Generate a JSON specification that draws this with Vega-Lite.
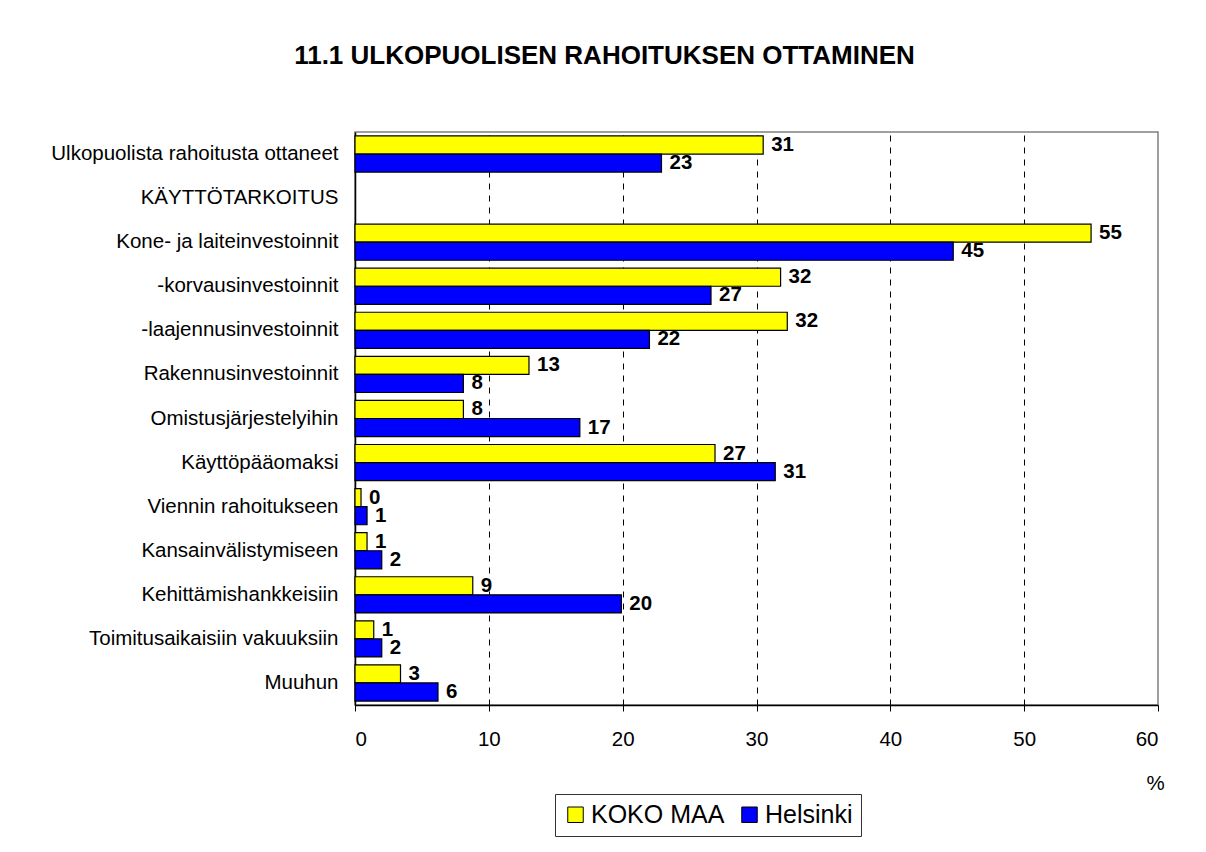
{
  "$schema": "https://vega.github.io/schema/vega-lite/v6.json",
  "width": 803,
  "height": 573,
  "autosize": {"type": "none"},
  "padding": {"left": 355, "top": 132, "right": 48, "bottom": 147},
  "background": "white",
  "config": {
    "font": "Liberation Sans",
    "view": {"stroke": "#808080", "strokeWidth": 1.5}
  },
  "title": {
    "text": "11.1 ULKOPUOLISEN RAHOITUKSEN OTTAMINEN",
    "font": "Liberation Sans",
    "fontSize": 26,
    "fontWeight": "bold",
    "anchor": "middle",
    "frame": "group",
    "dx": -152,
    "offset": 63,
    "color": "black"
  },
  "data": {
    "values": [
      {"category": "Ulkopuolista rahoitusta ottaneet", "series": "KOKO MAA", "value": 30.5, "label": "31"},
      {"category": "Ulkopuolista rahoitusta ottaneet", "series": "Helsinki", "value": 22.9, "label": "23"},
      {"category": "Kone- ja laiteinvestoinnit", "series": "KOKO MAA", "value": 55.0, "label": "55"},
      {"category": "Kone- ja laiteinvestoinnit", "series": "Helsinki", "value": 44.7, "label": "45"},
      {"category": "-korvausinvestoinnit", "series": "KOKO MAA", "value": 31.8, "label": "32"},
      {"category": "-korvausinvestoinnit", "series": "Helsinki", "value": 26.6, "label": "27"},
      {"category": "-laajennusinvestoinnit", "series": "KOKO MAA", "value": 32.3, "label": "32"},
      {"category": "-laajennusinvestoinnit", "series": "Helsinki", "value": 22.0, "label": "22"},
      {"category": "Rakennusinvestoinnit", "series": "KOKO MAA", "value": 13.0, "label": "13"},
      {"category": "Rakennusinvestoinnit", "series": "Helsinki", "value": 8.1, "label": "8"},
      {"category": "Omistusjärjestelyihin", "series": "KOKO MAA", "value": 8.1, "label": "8"},
      {"category": "Omistusjärjestelyihin", "series": "Helsinki", "value": 16.8, "label": "17"},
      {"category": "Käyttöpääomaksi", "series": "KOKO MAA", "value": 26.9, "label": "27"},
      {"category": "Käyttöpääomaksi", "series": "Helsinki", "value": 31.4, "label": "31"},
      {"category": "Viennin rahoitukseen", "series": "KOKO MAA", "value": 0.45, "label": "0"},
      {"category": "Viennin rahoitukseen", "series": "Helsinki", "value": 0.9, "label": "1"},
      {"category": "Kansainvälistymiseen", "series": "KOKO MAA", "value": 0.9, "label": "1"},
      {"category": "Kansainvälistymiseen", "series": "Helsinki", "value": 2.0, "label": "2"},
      {"category": "Kehittämishankkeisiin", "series": "KOKO MAA", "value": 8.8, "label": "9"},
      {"category": "Kehittämishankkeisiin", "series": "Helsinki", "value": 19.9, "label": "20"},
      {"category": "Toimitusaikaisiin vakuuksiin", "series": "KOKO MAA", "value": 1.4, "label": "1"},
      {"category": "Toimitusaikaisiin vakuuksiin", "series": "Helsinki", "value": 2.0, "label": "2"},
      {"category": "Muuhun", "series": "KOKO MAA", "value": 3.4, "label": "3"},
      {"category": "Muuhun", "series": "Helsinki", "value": 6.2, "label": "6"}
    ]
  },
  "encoding": {
    "y": {
      "field": "category",
      "type": "nominal",
      "scale": {
        "domain": ["Ulkopuolista rahoitusta ottaneet", "KÄYTTÖTARKOITUS", "Kone- ja laiteinvestoinnit", "-korvausinvestoinnit", "-laajennusinvestoinnit", "Rakennusinvestoinnit", "Omistusjärjestelyihin", "Käyttöpääomaksi", "Viennin rahoitukseen", "Kansainvälistymiseen", "Kehittämishankkeisiin", "Toimitusaikaisiin vakuuksiin", "Muuhun"],
        "paddingInner": 0.18,
        "paddingOuter": 0.09
      },
      "axis": {
        "title": null,
        "ticks": false,
        "domainColor": "black",
        "domainWidth": 1.5,
        "labelFont": "Liberation Sans",
        "labelFontSize": 20.5,
        "labelColor": "black",
        "labelPadding": 17,
        "labelLimit": 400
      }
    },
    "yOffset": {
      "field": "series",
      "type": "nominal",
      "scale": {"domain": ["KOKO MAA", "Helsinki"], "paddingInner": 0, "paddingOuter": 0}
    },
    "x": {
      "field": "value",
      "type": "quantitative",
      "scale": {"domain": [0, 60], "nice": false, "zero": true},
      "axis": {
        "values": [0, 10, 20, 30, 40, 50, 60],
        "grid": true,
        "gridDash": [6, 6],
        "gridColor": {"condition": {"test": "datum.value == 0 || datum.value == 60", "value": "transparent"}, "value": "black"},
        "gridWidth": 1,
        "domainColor": "black",
        "domainWidth": 1.5,
        "tickColor": "black",
        "tickSize": 6,
        "labelFont": "Liberation Sans",
        "labelFontSize": 20.5,
        "labelColor": "black",
        "labelPadding": 18,
        "title": "%",
        "titleFont": "Liberation Sans",
        "titleFontSize": 20.5,
        "titleFontWeight": "normal",
        "titleColor": "black",
        "titleX": 800,
        "titleY": 78,
        "titleAlign": "center",
        "titleBaseline": "middle"
      }
    }
  },
  "layer": [
    {
      "mark": {"type": "bar", "stroke": "black", "strokeWidth": 1.2},
      "encoding": {
        "color": {
          "field": "series",
          "type": "nominal",
          "scale": {"domain": ["KOKO MAA", "Helsinki"], "range": ["#FFFF00", "#0000FF"]},
          "legend": {
            "title": null,
            "orient": "none",
            "direction": "horizontal",
            "legendX": 200,
            "legendY": 662,
            "strokeColor": "#333333",
            "fillColor": "white",
            "padding": 8,
            "symbolType": "square",
            "symbolSize": 240,
            "symbolStrokeColor": "black",
            "symbolStrokeWidth": 1,
            "symbolOpacity": 1,
            "labelFont": "Liberation Sans",
            "labelFontSize": 25,
            "labelColor": "black",
            "labelOffset": 3,
            "columnPadding": 12
          }
        }
      }
    },
    {
      "mark": {"type": "text", "align": "left", "baseline": "middle", "dx": 8, "fontWeight": "bold", "fontSize": 20.5, "font": "Liberation Sans", "color": "black"},
      "encoding": {
        "text": {"field": "label"}
      }
    }
  ]
}
